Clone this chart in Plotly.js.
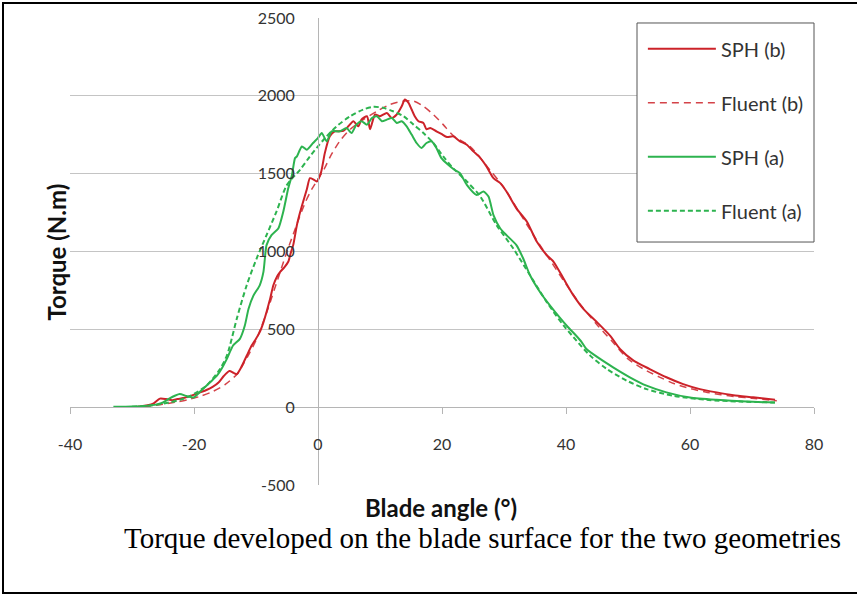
<!DOCTYPE html>
<html>
<head>
<meta charset="utf-8">
<script src="https://cdn.plot.ly/plotly-3.0.1.min.js"></script>
<style>
html,body{margin:0;padding:0;background:#fff;}
#wrap{position:relative;width:857px;height:594px;}
#chart{position:absolute;left:0;top:0;width:857px;height:594px;}
#frame{position:absolute;left:2px;top:2px;width:855px;height:592px;box-sizing:border-box;border-top:2px solid #000;border-left:2px solid #000;border-bottom:2px solid #000;pointer-events:none;}
</style>
</head>
<body>
<div id="wrap"><div id="chart"></div><div id="frame"></div></div>
<script>
// ---- data ----
const seriesNames = ["SPH (b)", "Fluent (b)", "SPH (a)", "Fluent (a)"];

const sphB_x = [-29,-27.5,-26.5,-25.5,-24.5,-23.5,-22.7,-21.5,-20.2,-19,-18,-17,-16,-15.2,-14.3,-13.6,-13.1,-12.4,-11.5,-10.7,-10,-9.4,-8.8,-8.3,-7.7,-7.2,-6.6,-6.1,-5.4,-4.8,-4.4,-4.0,-3.4,-2.9,-2.4,-1.8,-1.3,-0.7,-0.2,0.5,1.1,1.9,2.7,3.4,4.1,4.9,5.7,6.5,7.0,7.9,8.4,9.2,10.0,11.1,11.9,12.7,13.5,14.0,14.6,15.1,15.6,16.2,17.0,17.5,18.1,19.1,19.9,20.8,21.8,22.9,24.0,25.0,26.1,27.2,28.3,29.4,30.4,32.0,33.7,35.3,36.9,38.0,39.6,41.2,42.8,45.0,47.1,48.7,50.9,53.5,56.2,58.9,61.6,64.3,67.0,70.2,73.7];
const sphB_y = [3,12,25,55,52,45,52,60,77,95,110,130,160,200,232,220,212,255,330,396,440,482,545,611,700,783,840,869,900,934,990,1041,1170,1250,1320,1400,1471,1462,1450,1510,1632,1740,1772,1772,1775,1804,1837,1804,1847,1869,1785,1880,1869,1890,1858,1880,1933,1976,1955,1912,1869,1837,1826,1785,1794,1772,1755,1735,1740,1708,1686,1645,1605,1545,1471,1439,1385,1277,1191,1062,976,934,826,718,632,546,460,374,299,245,192,148,116,95,77,63,47];

const fluB_x = [-30,-27,-25,-23,-21,-19,-17,-15,-13,-12,-11,-10,-9,-8,-7,-6,-5,-4,-3,-2,-1,0,1,2,3.5,5.2,7.3,9.5,11.6,13.8,15.4,17.0,18.6,20.2,21.8,24.5,27.7,30,32.5,35,37.5,40,42.5,45,47.5,50,52.5,55,57.5,60,62.5,65,67.5,70,74];
const fluB_y = [2,8,18,32,48,70,100,145,215,280,350,430,530,640,760,880,1000,1110,1220,1320,1400,1465,1530,1611,1708,1785,1847,1901,1944,1966,1966,1933,1880,1815,1745,1675,1525,1410,1250,1090,940,790,650,530,420,310,245,195,150,120,97,80,67,57,42];

const sphA_x = [-33,-30,-28,-26,-25,-24,-23,-22.3,-21.2,-20.1,-19,-18,-17,-16.3,-15.5,-14.7,-13.7,-12.6,-11.8,-11.2,-10.4,-9.4,-8.8,-8.3,-7.5,-6.4,-5.6,-4.8,-4.2,-3.7,-3.4,-2.6,-1.8,-0.8,0.0,0.6,1.4,2.2,3.5,4.6,5.4,6.2,7.0,7.9,8.7,9.5,10.3,11.1,11.9,12.7,13.5,14.3,15.1,15.9,16.7,17.5,18.3,19.1,19.9,21.0,22.0,22.9,24.0,25.6,26.7,27.5,28.3,29.4,30.4,32.0,33.1,34.2,35.8,37.4,39.0,40.3,41.5,42.5,43.3,45.5,47.6,50.3,53.0,56.2,60.0,64.3,69.1,73.7];
const sphA_y = [2,4,8,18,30,55,75,84,72,62,100,138,175,202,250,310,396,439,525,632,718,783,869,1041,1105,1148,1256,1406,1492,1600,1611,1675,1654,1697,1730,1761,1708,1772,1772,1794,1761,1815,1837,1815,1858,1869,1837,1847,1858,1826,1837,1804,1751,1697,1665,1697,1708,1665,1600,1557,1525,1503,1428,1363,1385,1353,1234,1148,1105,1041,955,847,740,654,575,515,465,420,374,310,256,192,138,95,62,47,36,30];

const fluA_x = [-30,-27,-24,-22,-20.6,-18,-15.8,-14.7,-14.2,-13.1,-11.5,-9.9,-8.3,-6.7,-5.0,-2.9,-1.3,0.9,3.0,5.2,7.3,8.9,10.5,12.1,13.8,15.4,17.0,18.6,20.2,21.8,24.0,26.1,28.8,31.5,34.2,36.9,39.6,41.2,43.9,46.6,49.8,53.0,57.3,62.7,68.1,73.7];
const fluA_y = [2,10,30,50,73,138,245,331,396,568,783,955,1105,1256,1428,1525,1611,1718,1804,1869,1912,1929,1923,1901,1869,1815,1761,1697,1611,1535,1450,1358,1170,1019,847,675,525,450,331,245,170,116,73,47,36,30];

const xTickVals = [-40,-20,0,20,40,60,80];
const xTickText = ["-40","-20","0","20","40","60","80"];
const yTickVals = [-500,0,500,1000,1500,2000,2500];
const yTickText = ["-500","0","500","1000","1500","2000","2500"];

const xTitle = "Blade angle (°)";
const yTitle = "Torque (N.m)";
const caption = "Torque developed on the blade surface for the two geometries";

// ---- styles ----
const RED = "#cc2229";
const GREEN = "#2db34f";
const FONT = "Lato, 'Open Sans', sans-serif";

const traces = [
  {x: sphB_x, y: sphB_y, name: seriesNames[0], legendgroup: "g1", mode: "lines",
   line: {color: RED, width: 2, shape: "spline", smoothing: 0.6}},
  {x: fluB_x, y: fluB_y, name: seriesNames[1], legendgroup: "g2", mode: "lines",
   line: {color: RED, width: 1.5, dash: "7px,5px", shape: "spline", smoothing: 0.8}, opacity: 0.85},
  {x: sphA_x, y: sphA_y, name: seriesNames[2], legendgroup: "g3", mode: "lines",
   line: {color: GREEN, width: 2, shape: "spline", smoothing: 0.6}},
  {x: fluA_x, y: fluA_y, name: seriesNames[3], legendgroup: "g4", mode: "lines",
   line: {color: GREEN, width: 2, dash: "5px,3px", shape: "spline", smoothing: 0.8}}
];

const layout = {
  width: 857, height: 594,
  margin: {l: 70, r: 43, t: 18, b: 109, pad: 0},
  paper_bgcolor: "#fff", plot_bgcolor: "#fff",
  showlegend: true,
  xaxis: {
    range: [-40, 80], tickmode: "array", tickvals: xTickVals, ticktext: xTickText,
    anchor: "free", position: 500/3000,
    showline: true, linecolor: "#b5b5b5", linewidth: 1,
    ticks: "outside", ticklen: 6, tickcolor: "#b5b5b5", tickwidth: 1,
    showgrid: false, zeroline: false,
    tickfont: {family: FONT, size: 16, color: "#333"},
    ticklabelstandoff: 17
  },
  yaxis: {
    range: [-500, 2500], tickmode: "array", tickvals: yTickVals, ticktext: yTickText,
    anchor: "free", position: 1/3,
    showline: true, linecolor: "#b5b5b5", linewidth: 1,
    ticks: "", showgrid: true, gridcolor: "#c4c4c4", gridwidth: 1, zeroline: false,
    tickfont: {family: FONT, size: 16, color: "#333"},
    ticklabelstandoff: 20
  },
  shapes: [
    {type: "rect", xref: "paper", yref: "paper", x0: 0.7621, x1: 1.0, y0: 0.5203, y1: 0.9893,
     fillcolor: "#fff", line: {color: "#555", width: 1}, layer: "above"}
  ],
  legend: {
    x: 0.770, y: 0.976, xanchor: "left", yanchor: "top",
    bgcolor: "rgba(0,0,0,0)", borderwidth: 0,
    font: {family: FONT, size: 20, color: "#333"},
    traceorder: "grouped", tracegroupgap: 25, itemwidth: 68
  },
  annotations: [
    {text: yTitle, xref: "paper", yref: "paper", x: -0.0175, y: 0.5, textangle: -90,
     showarrow: false, xanchor: "center", yanchor: "middle",
     font: {family: FONT, size: 24, color: "#111", weight: "bold"}},
    {text: xTitle, xref: "paper", yref: "paper", x: 0.4987, y: -0.049,
     showarrow: false, xanchor: "center", yanchor: "middle",
     font: {family: FONT, size: 24, color: "#111", weight: "bold"}},
    {text: caption, xref: "paper", yref: "paper", x: 0.554, y: -0.1135,
     showarrow: false, xanchor: "center", yanchor: "middle",
     font: {family: "'Liberation Serif', 'Times New Roman', serif", size: 29, color: "#000"}}
  ]
};

Plotly.newPlot("chart", traces, layout, {displayModeBar: false, staticPlot: true});
</script>
</body>
</html>
